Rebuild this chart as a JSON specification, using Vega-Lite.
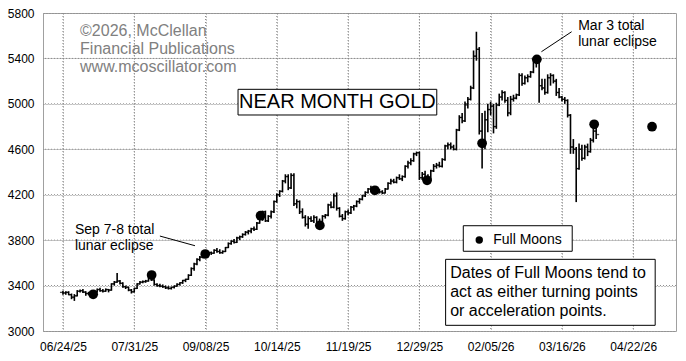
{
"$schema": "https://vega.github.io/schema/vega-lite/v6.json",
"width": 633, "height": 318,
"autosize": {"type": "none"},
"padding": {"left": 43, "top": 13, "right": 10, "bottom": 30},
"background": "white",
"config": {
 "view": {"stroke": "#a0a0a0", "strokeWidth": 1},
 "axis": {"labelFont": "Liberation Sans", "labelFontSize": 12, "labelColor": "#000", "ticks": false, "domain": false, "grid": true, "gridColor": "#888", "gridDash": [1, 2], "gridWidth": 1, "gridOpacity": 1}
},
"datasets": {
 "bars": [
{"i":0,"o":3340,"h":3355,"l":3320,"c":3335},{"i":1,"o":3335,"h":3350,"l":3320,"c":3340},{"i":2,"o":3340,"h":3350,"l":3315,"c":3320},{"i":3,"o":3320,"h":3330,"l":3280,"c":3295},{"i":4,"o":3300,"h":3325,"l":3265,"c":3310},
{"i":5,"o":3310,"h":3360,"l":3305,"c":3350},{"i":6,"o":3350,"h":3365,"l":3340,"c":3355},{"i":7,"o":3355,"h":3370,"l":3335,"c":3345},{"i":8,"o":3340,"h":3350,"l":3310,"c":3330},{"i":9,"o":3330,"h":3345,"l":3315,"c":3325},
{"i":10,"o":3325,"h":3340,"l":3310,"c":3320},{"i":11,"o":3320,"h":3350,"l":3315,"c":3345},{"i":12,"o":3345,"h":3375,"l":3340,"c":3365},{"i":13,"o":3365,"h":3380,"l":3345,"c":3355},{"i":14,"o":3355,"h":3370,"l":3340,"c":3350},
{"i":15,"o":3350,"h":3375,"l":3345,"c":3365},{"i":16,"o":3365,"h":3370,"l":3340,"c":3360},{"i":17,"o":3360,"h":3420,"l":3355,"c":3415},{"i":18,"o":3415,"h":3440,"l":3400,"c":3430},{"i":19,"o":3430,"h":3510,"l":3425,"c":3440},
{"i":20,"o":3440,"h":3450,"l":3410,"c":3420},{"i":21,"o":3420,"h":3430,"l":3380,"c":3390},{"i":22,"o":3390,"h":3400,"l":3370,"c":3385},{"i":23,"o":3385,"h":3390,"l":3350,"c":3360},{"i":24,"o":3360,"h":3370,"l":3330,"c":3345},
{"i":25,"o":3345,"h":3380,"l":3340,"c":3375},{"i":26,"o":3375,"h":3420,"l":3370,"c":3415},{"i":27,"o":3415,"h":3440,"l":3410,"c":3430},{"i":28,"o":3430,"h":3445,"l":3420,"c":3435},{"i":29,"o":3435,"h":3450,"l":3425,"c":3440},
{"i":30,"o":3440,"h":3500,"l":3435,"c":3490},{"i":31,"o":3490,"h":3500,"l":3440,"c":3450},{"i":32,"o":3450,"h":3455,"l":3400,"c":3410},{"i":33,"o":3410,"h":3420,"l":3390,"c":3400},{"i":34,"o":3400,"h":3415,"l":3385,"c":3395},
{"i":35,"o":3395,"h":3410,"l":3380,"c":3390},{"i":36,"o":3390,"h":3400,"l":3370,"c":3380},{"i":37,"o":3380,"h":3395,"l":3365,"c":3375},{"i":38,"o":3375,"h":3390,"l":3365,"c":3385},{"i":39,"o":3385,"h":3400,"l":3375,"c":3395},
{"i":40,"o":3395,"h":3420,"l":3390,"c":3410},{"i":41,"o":3410,"h":3430,"l":3400,"c":3425},{"i":42,"o":3425,"h":3450,"l":3415,"c":3445},{"i":43,"o":3445,"h":3460,"l":3430,"c":3455},{"i":44,"o":3455,"h":3500,"l":3450,"c":3490},
{"i":45,"o":3490,"h":3560,"l":3485,"c":3550},{"i":46,"o":3550,"h":3600,"l":3530,"c":3590},{"i":47,"o":3590,"h":3640,"l":3580,"c":3630},{"i":48,"o":3630,"h":3660,"l":3615,"c":3650},{"i":49,"o":3650,"h":3680,"l":3640,"c":3670},
{"i":50,"o":3670,"h":3690,"l":3650,"c":3680},{"i":51,"o":3680,"h":3700,"l":3670,"c":3690},{"i":52,"o":3690,"h":3700,"l":3670,"c":3685},{"i":53,"o":3685,"h":3720,"l":3680,"c":3710},{"i":54,"o":3710,"h":3730,"l":3690,"c":3700},
{"i":55,"o":3700,"h":3720,"l":3680,"c":3690},{"i":56,"o":3690,"h":3710,"l":3680,"c":3700},{"i":57,"o":3700,"h":3740,"l":3695,"c":3735},{"i":58,"o":3735,"h":3780,"l":3730,"c":3770},{"i":59,"o":3770,"h":3800,"l":3760,"c":3790},
{"i":60,"o":3790,"h":3810,"l":3770,"c":3780},{"i":61,"o":3780,"h":3830,"l":3775,"c":3820},{"i":62,"o":3820,"h":3840,"l":3800,"c":3830},{"i":63,"o":3830,"h":3860,"l":3820,"c":3850},{"i":64,"o":3850,"h":3880,"l":3840,"c":3870},
{"i":65,"o":3870,"h":3890,"l":3850,"c":3880},{"i":66,"o":3880,"h":3910,"l":3860,"c":3900},{"i":67,"o":3900,"h":3920,"l":3880,"c":3895},{"i":68,"o":3895,"h":3960,"l":3890,"c":3950},{"i":69,"o":3950,"h":4010,"l":3945,"c":4000},
{"i":70,"o":4000,"h":4060,"l":3970,"c":4050},{"i":71,"o":4050,"h":4060,"l":3960,"c":3970},{"i":72,"o":3970,"h":4020,"l":3960,"c":4010},{"i":73,"o":4010,"h":4060,"l":3990,"c":4050},{"i":74,"o":4050,"h":4150,"l":4040,"c":4140},
{"i":75,"o":4140,"h":4210,"l":4130,"c":4200},{"i":76,"o":4200,"h":4240,"l":4180,"c":4230},{"i":77,"o":4230,"h":4330,"l":4220,"c":4320},{"i":78,"o":4320,"h":4380,"l":4300,"c":4360},{"i":79,"o":4360,"h":4380,"l":4240,"c":4260},
{"i":80,"o":4260,"h":4390,"l":4250,"c":4370},{"i":81,"o":4370,"h":4390,"l":4100,"c":4120},{"i":82,"o":4120,"h":4160,"l":4080,"c":4140},{"i":83,"o":4140,"h":4150,"l":4030,"c":4050},{"i":84,"o":4050,"h":4080,"l":3990,"c":4000},
{"i":85,"o":4000,"h":4020,"l":3920,"c":3940},{"i":86,"o":3940,"h":4010,"l":3900,"c":3990},{"i":87,"o":3990,"h":4010,"l":3960,"c":3970},{"i":88,"o":3970,"h":4020,"l":3950,"c":4000},{"i":89,"o":4000,"h":4010,"l":3930,"c":3950},
{"i":90,"o":3950,"h":3990,"l":3920,"c":3960},{"i":91,"o":3960,"h":4020,"l":3950,"c":4010},{"i":92,"o":4010,"h":4030,"l":3990,"c":4020},{"i":93,"o":4020,"h":4120,"l":4010,"c":4110},{"i":94,"o":4110,"h":4140,"l":4080,"c":4090},
{"i":95,"o":4090,"h":4210,"l":4080,"c":4190},{"i":96,"o":4190,"h":4220,"l":4060,"c":4080},{"i":97,"o":4080,"h":4090,"l":4000,"c":4010},{"i":98,"o":4010,"h":4030,"l":3970,"c":3990},{"i":99,"o":3990,"h":4060,"l":3980,"c":4050},
{"i":100,"o":4050,"h":4070,"l":4020,"c":4040},{"i":101,"o":4040,"h":4100,"l":4030,"c":4090},{"i":102,"o":4090,"h":4110,"l":4060,"c":4100},{"i":103,"o":4100,"h":4150,"l":4090,"c":4140},{"i":104,"o":4140,"h":4170,"l":4120,"c":4160},
{"i":105,"o":4160,"h":4200,"l":4150,"c":4190},{"i":106,"o":4190,"h":4230,"l":4180,"c":4220},{"i":107,"o":4220,"h":4260,"l":4210,"c":4250},{"i":108,"o":4250,"h":4280,"l":4220,"c":4240},{"i":109,"o":4240,"h":4260,"l":4220,"c":4245},
{"i":110,"o":4245,"h":4250,"l":4210,"c":4230},{"i":111,"o":4230,"h":4250,"l":4210,"c":4225},{"i":112,"o":4225,"h":4240,"l":4205,"c":4215},{"i":113,"o":4215,"h":4260,"l":4210,"c":4250},{"i":114,"o":4250,"h":4310,"l":4245,"c":4300},
{"i":115,"o":4300,"h":4340,"l":4290,"c":4320},{"i":116,"o":4320,"h":4340,"l":4300,"c":4310},{"i":117,"o":4310,"h":4360,"l":4300,"c":4350},{"i":118,"o":4350,"h":4380,"l":4330,"c":4340},{"i":119,"o":4340,"h":4370,"l":4320,"c":4360},
{"i":120,"o":4360,"h":4460,"l":4350,"c":4450},{"i":121,"o":4450,"h":4500,"l":4430,"c":4480},{"i":122,"o":4480,"h":4520,"l":4460,"c":4500},{"i":123,"o":4500,"h":4570,"l":4490,"c":4560},{"i":124,"o":4560,"h":4580,"l":4540,"c":4570},
{"i":125,"o":4570,"h":4580,"l":4330,"c":4350},{"i":126,"o":4350,"h":4400,"l":4330,"c":4380},{"i":127,"o":4380,"h":4410,"l":4340,"c":4360},{"i":128,"o":4360,"h":4380,"l":4320,"c":4340},{"i":129,"o":4340,"h":4420,"l":4330,"c":4410},
{"i":130,"o":4410,"h":4470,"l":4400,"c":4450},{"i":131,"o":4450,"h":4480,"l":4430,"c":4460},{"i":132,"o":4460,"h":4490,"l":4440,"c":4450},{"i":133,"o":4450,"h":4520,"l":4440,"c":4510},{"i":134,"o":4510,"h":4640,"l":4500,"c":4630},
{"i":135,"o":4630,"h":4660,"l":4600,"c":4640},{"i":136,"o":4640,"h":4660,"l":4600,"c":4620},{"i":137,"o":4620,"h":4640,"l":4590,"c":4600},{"i":138,"o":4600,"h":4780,"l":4590,"c":4770},{"i":139,"o":4770,"h":4900,"l":4760,"c":4880},
{"i":140,"o":4880,"h":4920,"l":4830,"c":4850},{"i":141,"o":4850,"h":5020,"l":4840,"c":5000},{"i":142,"o":4990,"h":5060,"l":4960,"c":5040},{"i":143,"o":5040,"h":5160,"l":5030,"c":5140},{"i":144,"o":5140,"h":5470,"l":5130,"c":5420},
{"i":145,"o":5420,"h":5635,"l":5380,"c":5480},{"i":146,"o":5480,"h":5500,"l":4730,"c":4760},{"i":147,"o":4760,"h":4920,"l":4430,"c":4660},{"i":148,"o":4660,"h":4940,"l":4600,"c":4860},{"i":149,"o":4860,"h":5000,"l":4750,"c":4950},
{"i":150,"o":4950,"h":5020,"l":4900,"c":4980},{"i":151,"o":4980,"h":5000,"l":4740,"c":4800},{"i":152,"o":4800,"h":5010,"l":4780,"c":4990},{"i":153,"o":4990,"h":5090,"l":4980,"c":5060},{"i":154,"o":5060,"h":5120,"l":5030,"c":5100},
{"i":155,"o":5100,"h":5110,"l":5010,"c":5030},{"i":156,"o":5030,"h":5060,"l":4890,"c":4920},{"i":157,"o":4920,"h":5070,"l":4900,"c":5040},{"i":158,"o":5040,"h":5080,"l":5020,"c":5050},{"i":159,"o":5050,"h":5090,"l":5040,"c":5080},
{"i":160,"o":5080,"h":5270,"l":5070,"c":5250},{"i":161,"o":5250,"h":5270,"l":5160,"c":5180},{"i":162,"o":5180,"h":5250,"l":5170,"c":5230},{"i":163,"o":5230,"h":5260,"l":5190,"c":5240},{"i":164,"o":5240,"h":5290,"l":5230,"c":5280},
{"i":165,"o":5280,"h":5400,"l":5270,"c":5370},{"i":166,"o":5370,"h":5400,"l":5320,"c":5380},{"i":167,"o":5380,"h":5390,"l":5010,"c":5160},{"i":168,"o":5160,"h":5220,"l":5120,"c":5140},{"i":169,"o":5140,"h":5220,"l":5080,"c":5100},
{"i":170,"o":5100,"h":5260,"l":5090,"c":5230},{"i":171,"o":5230,"h":5270,"l":5160,"c":5250},{"i":172,"o":5250,"h":5260,"l":5180,"c":5200},{"i":173,"o":5200,"h":5220,"l":5070,"c":5100},{"i":174,"o":5100,"h":5140,"l":5050,"c":5060},
{"i":175,"o":5060,"h":5070,"l":5020,"c":5040},{"i":176,"o":5040,"h":5060,"l":5000,"c":5030},{"i":177,"o":5030,"h":5040,"l":4880,"c":4900},{"i":178,"o":4900,"h":4910,"l":4560,"c":4620},{"i":179,"o":4620,"h":4690,"l":4560,"c":4600},
{"i":180,"o":4600,"h":4620,"l":4135,"c":4430},{"i":181,"o":4430,"h":4650,"l":4420,"c":4600},{"i":182,"o":4600,"h":4640,"l":4500,"c":4520},{"i":183,"o":4520,"h":4640,"l":4510,"c":4620},{"i":184,"o":4620,"h":4650,"l":4540,"c":4580},
{"i":185,"o":4580,"h":4700,"l":4570,"c":4680},{"i":186,"o":4680,"h":4830,"l":4660,"c":4760},{"i":187,"o":4760,"h":4810,"l":4690,"c":4730}
 ],
 "moons": [
{"x":10.6,"y":3323},{"x":31.1,"y":3493},{"x":49.9,"y":3678},{"x":69.3,"y":4015},{"x":90.1,"y":3930},{"x":109.4,"y":4239},{"x":127.7,"y":4327},{"x":147.0,"y":4653},{"x":166.2,"y":5392},{"x":186.3,"y":4820},{"x":206.6,"y":4799}
 ],
 "boxes": [
{"x1":61.4,"x2":131.1,"y1":5128,"y2":4902},
{"x1":140.4,"x2":178.6,"y1":3927,"y2":3702},
{"x1":134.2,"x2":207.7,"y1":3631,"y2":3050}
 ],
 "leaders": [
{"x1":34.0,"y1":3836,"x2":46.3,"y2":3751},
{"x1":167.8,"y1":5459,"x2":178.4,"y2":5635}
 ],
 "gridx": [{"v":0},{"v":25},{"v":50},{"v":75},{"v":100},{"v":125},{"v":150},{"v":175},{"v":200}],
 "gridy": [{"v":3400},{"v":3800},{"v":4200},{"v":4600},{"v":5000},{"v":5400}]
},
"layer": [
 {"data": {"name": "gridx"}, "mark": {"type": "rule", "color": "#888", "strokeWidth": 1, "strokeDash": [1, 2]},
  "encoding": {
   "x": {"field": "v", "type": "quantitative", "scale": {"domain": [-7, 215], "nice": false, "zero": false}, "title": null}
  }},
 {"data": {"name": "gridy"}, "mark": {"type": "rule", "color": "#888", "strokeWidth": 1, "strokeDash": [1, 2]},
  "encoding": {
   "y": {"field": "v", "type": "quantitative", "scale": {"domain": [3000, 5800], "nice": false, "zero": false}, "title": null}
  }},
 {"data": {"name": "boxes"}, "mark": {"type": "rect", "fill": "white", "stroke": "black", "strokeWidth": 1},
  "encoding": {
   "x": {"field": "x1", "type": "quantitative", "scale": {"domain": [-7, 215], "nice": false, "zero": false}, "title": null},
   "x2": {"field": "x2"},
   "y": {"field": "y1", "type": "quantitative", "scale": {"domain": [3000, 5800], "nice": false, "zero": false}, "title": null},
   "y2": {"field": "y2"}
  }},
 {"data": {"name": "bars"}, "mark": {"type": "rule", "color": "black", "strokeWidth": 1.6},
  "encoding": {
   "x": {"field": "i", "type": "quantitative", "scale": {"domain": [-7, 215], "nice": false, "zero": false}, "title": null,
         "axis": {"values": [0,25,50,75,100,125,150,175,200], "grid": true, "labelPadding": 10, "title": null,
                  "labelExpr": "['06/24/25','07/31/25','09/08/25','10/14/25','11/19/25','12/29/25','02/05/26','03/16/26','04/22/26'][round(datum.value/25)]"}},
   "y": {"field": "l", "type": "quantitative", "scale": {"domain": [3000, 5800], "nice": false, "zero": false}, "title": null,
         "axis": {"values": [3000,3400,3800,4200,4600,5000,5400,5800], "format": "d", "grid": true, "labelPadding": 9, "title": null}},
   "y2": {"field": "h"}
  }},
 {"data": {"name": "bars"}, "mark": {"type": "tick", "orient": "horizontal", "color": "black", "size": 3, "thickness": 1.3, "xOffset": -1.5},
  "encoding": {
   "x": {"field": "i", "type": "quantitative", "scale": {"domain": [-7, 215], "nice": false, "zero": false}, "title": null},
   "y": {"field": "o", "type": "quantitative", "scale": {"domain": [3000, 5800], "nice": false, "zero": false}, "title": null}
  }},
 {"data": {"name": "bars"}, "mark": {"type": "tick", "orient": "horizontal", "color": "black", "size": 3, "thickness": 1.3, "xOffset": 1.5},
  "encoding": {
   "x": {"field": "i", "type": "quantitative", "scale": {"domain": [-7, 215], "nice": false, "zero": false}, "title": null},
   "y": {"field": "c", "type": "quantitative", "scale": {"domain": [3000, 5800], "nice": false, "zero": false}, "title": null}
  }},
 {"data": {"name": "moons"}, "mark": {"type": "point", "shape": "circle", "filled": true, "color": "black", "opacity": 1, "size": 95},
  "encoding": {
   "x": {"field": "x", "type": "quantitative", "scale": {"domain": [-7, 215], "nice": false, "zero": false}, "title": null},
   "y": {"field": "y", "type": "quantitative", "scale": {"domain": [3000, 5800], "nice": false, "zero": false}, "title": null}
  }},
 {"data": {"name": "leaders"}, "mark": {"type": "rule", "color": "black", "strokeWidth": 1},
  "encoding": {
   "x": {"field": "x1", "type": "quantitative", "scale": {"domain": [-7, 215], "nice": false, "zero": false}, "title": null},
   "x2": {"field": "x2"},
   "y": {"field": "y1", "type": "quantitative", "scale": {"domain": [3000, 5800], "nice": false, "zero": false}, "title": null},
   "y2": {"field": "y2"}
  }},
 {"data": {"values": [{"x":146.0,"y":3801}]}, "mark": {"type": "point", "shape": "circle", "filled": true, "color": "black", "opacity": 1, "size": 55},
  "encoding": {
   "x": {"field": "x", "type": "quantitative", "scale": {"domain": [-7, 215], "nice": false, "zero": false}, "title": null},
   "y": {"field": "y", "type": "quantitative", "scale": {"domain": [3000, 5800], "nice": false, "zero": false}, "title": null}
  }},
 {"data": {"values": [{"x":6.0,"y":5597,"t":"©2026, McClellan\nFinancial Publications\nwww.mcoscillator.com"}]},
  "mark": {"type": "text", "font": "Liberation Sans", "fontSize": 16, "lineHeight": 18, "color": "#808080", "align": "left", "baseline": "alphabetic", "lineBreak": "\n"},
  "encoding": {
   "x": {"field": "x", "type": "quantitative", "scale": {"domain": [-7, 215], "nice": false, "zero": false}, "title": null},
   "y": {"field": "y", "type": "quantitative", "scale": {"domain": [3000, 5800], "nice": false, "zero": false}, "title": null},
   "text": {"field": "t"}
  }},
 {"data": {"values": [{"x":96.25,"y":5015,"t":"NEAR MONTH GOLD"}]},
  "mark": {"type": "text", "font": "Liberation Sans", "fontSize": 20, "color": "black", "align": "center", "baseline": "middle"},
  "encoding": {
   "x": {"field": "x", "type": "quantitative", "scale": {"domain": [-7, 215], "nice": false, "zero": false}, "title": null},
   "y": {"field": "y", "type": "quantitative", "scale": {"domain": [3000, 5800], "nice": false, "zero": false}, "title": null},
   "text": {"field": "t"}
  }},
 {"data": {"values": [{"x":150.9,"y":3801,"t":"Full Moons"}]},
  "mark": {"type": "text", "font": "Liberation Sans", "fontSize": 14, "color": "black", "align": "left", "baseline": "middle"},
  "encoding": {
   "x": {"field": "x", "type": "quantitative", "scale": {"domain": [-7, 215], "nice": false, "zero": false}, "title": null},
   "y": {"field": "y", "type": "quantitative", "scale": {"domain": [3000, 5800], "nice": false, "zero": false}, "title": null},
   "text": {"field": "t"}
  }},
 {"data": {"values": [{"x":135.8,"y":3464,"t":"Dates of Full Moons tend to\nact as either turning points\nor acceleration points."}]},
  "mark": {"type": "text", "font": "Liberation Sans", "fontSize": 16, "lineHeight": 19, "color": "black", "align": "left", "baseline": "alphabetic", "lineBreak": "\n"},
  "encoding": {
   "x": {"field": "x", "type": "quantitative", "scale": {"domain": [-7, 215], "nice": false, "zero": false}, "title": null},
   "y": {"field": "y", "type": "quantitative", "scale": {"domain": [3000, 5800], "nice": false, "zero": false}, "title": null},
   "text": {"field": "t"}
  }},
 {"data": {"values": [{"x":4.2,"y":3854,"t":"Sep 7-8 total\nlunar eclipse"},{"x":180.7,"y":5650,"t":"Mar 3 total\nlunar eclipse"}]},
  "mark": {"type": "text", "font": "Liberation Sans", "fontSize": 14, "lineHeight": 16, "color": "black", "align": "left", "baseline": "alphabetic", "lineBreak": "\n"},
  "encoding": {
   "x": {"field": "x", "type": "quantitative", "scale": {"domain": [-7, 215], "nice": false, "zero": false}, "title": null},
   "y": {"field": "y", "type": "quantitative", "scale": {"domain": [3000, 5800], "nice": false, "zero": false}, "title": null},
   "text": {"field": "t"}
  }}
]
}
